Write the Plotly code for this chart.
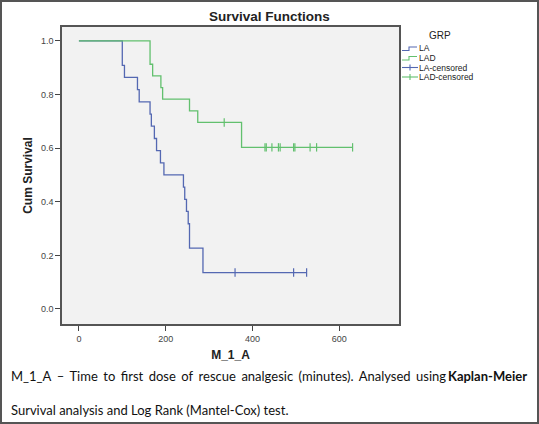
import plotly.graph_objects as go

# ---- data ----
la_times = [0, 100, 105, 135, 139, 164, 167, 174, 179, 188, 196, 241, 244, 248, 252, 255, 286, 525]
la_surv = [1.0, 0.909, 0.864, 0.818, 0.773, 0.727, 0.682, 0.636, 0.591, 0.545, 0.500,
           0.455, 0.409, 0.364, 0.318, 0.227, 0.136, 0.136]
lad_times = [0, 164, 170, 189, 193, 255, 274, 375, 631]
lad_surv = [1.0, 0.913, 0.870, 0.826, 0.783, 0.739, 0.696, 0.603, 0.603]
la_cens_times = [360, 495, 525]
la_cens_surv = [0.136, 0.136, 0.136]
lad_cens_times = [335, 429, 432, 445, 460, 464, 495, 498, 533, 548, 631]
lad_cens_surv = [0.696, 0.603, 0.603, 0.603, 0.603, 0.603, 0.603, 0.603, 0.603, 0.603, 0.603]
x_ticks = [0, 200, 400, 600]
y_ticks = [0.0, 0.2, 0.4, 0.6, 0.8, 1.0]
legend_labels = ["LA", "LAD", "LA-censored", "LAD-censored"]

BLUE = "#5468b2"
GREEN = "#62c06e"

W, H = 539, 424
L, R, T, B = 62, 140, 27, 100
PW, PH = W - L - R, H - T - B


def px(x):
    return (x - L) / PW


def py(y):
    return (H - B - y) / PH


fig = go.Figure()
fig.add_trace(go.Scatter(x=la_times, y=la_surv, mode="lines", line=dict(shape="hv", color=BLUE, width=1.3),
                         name="LA", showlegend=False))
fig.add_trace(go.Scatter(x=lad_times, y=lad_surv, mode="lines", line=dict(shape="hv", color=GREEN, width=1.3),
                         name="LAD", showlegend=False))
fig.add_trace(go.Scatter(x=la_cens_times, y=la_cens_surv, mode="markers",
                         marker=dict(symbol="line-ns", size=6, line=dict(color=BLUE, width=1.2)),
                         name="LA-censored", showlegend=False))
fig.add_trace(go.Scatter(x=lad_cens_times, y=lad_cens_surv, mode="markers",
                         marker=dict(symbol="line-ns", size=6, line=dict(color=GREEN, width=1.2)),
                         name="LAD-censored", showlegend=False))

axis_common = dict(showgrid=False, zeroline=False, showline=True, linecolor="#555", linewidth=1.5,
                   mirror=True, ticks="outside", ticklen=5, tickcolor="#444", tickwidth=1.3,
                   tickfont=dict(family="Liberation Sans, Arial, sans-serif", size=9, color="#444"))

fig.update_layout(
    width=W, height=H,
    margin=dict(l=L, r=R, t=T, b=B, pad=0),
    paper_bgcolor="white", plot_bgcolor="#f2f2f2",
    xaxis=dict(range=[-39, 738], tickvals=x_ticks, **axis_common,
               title=dict(text="<b>M_1_A</b>", standoff=8,
                          font=dict(family="Liberation Sans, Arial, sans-serif", size=12, color="#222"))),
    yaxis=dict(range=[-0.056, 1.052], tickvals=y_ticks, tickformat=".1f", **axis_common,
               title=dict(text="<b>Cum Survival</b>", standoff=6,
                          font=dict(family="Liberation Sans, Arial, sans-serif", size=12, color="#222"))),
    showlegend=False,
)

fig.add_annotation(text="<b>Survival Functions</b>", xref="paper", yref="paper", x=px(269.5), y=py(17),
                   showarrow=False, xanchor="center", yanchor="middle",
                   font=dict(family="Liberation Sans, Arial, sans-serif", size=13.5, color="#222"))

# custom legend
lf = dict(family="Liberation Sans, Arial, sans-serif", size=8.5, color="#222")
fig.add_annotation(text="GRP", xref="paper", yref="paper", x=px(440), y=py(35), showarrow=False,
                   xanchor="center", yanchor="middle", font=dict(lf, size=10))
leg_y = [48.5, 58, 67.5, 77]
leg_col = [BLUE, GREEN, BLUE, GREEN]
for i, (lab, yy, c) in enumerate(zip(legend_labels, leg_y, leg_col)):
    fig.add_annotation(text=lab, xref="paper", yref="paper", x=px(418), y=py(yy), showarrow=False,
                       xanchor="left", yanchor="middle", font=lf, borderpad=0)
    if i < 2:
        path = (f"M {px(402)},{py(yy + 2)} L {px(409)},{py(yy + 2)} L {px(409)},{py(yy - 1.5)} "
                f"L {px(417)},{py(yy - 1.5)}")
        fig.add_shape(type="path", path=path, xref="paper", yref="paper", line=dict(color=c, width=1.1))
    else:
        fig.add_shape(type="line", xref="paper", yref="paper", x0=px(402), x1=px(418), y0=py(yy), y1=py(yy),
                      line=dict(color=c, width=1.1))
        fig.add_shape(type="line", xref="paper", yref="paper", x0=px(410), x1=px(410), y0=py(yy - 3),
                      y1=py(yy + 3), line=dict(color=c, width=1.1))

cf = dict(family="Lato, sans-serif", size=13, color="#111")
line1 = "M_1_A – Time to first dose of rescue analgesic (minutes). Analysed using"
line1_justified = line1.replace(" ", "\u2006 ")
fig.add_annotation(text=line1_justified,
                   xref="paper", yref="paper", x=px(10), y=py(376), showarrow=False,
                   xanchor="left", yanchor="middle", font=cf, borderpad=0)
fig.add_annotation(text="<b>Kaplan-Meier</b>", xref="paper", yref="paper", x=px(528), y=py(376),
                   showarrow=False, xanchor="right", yanchor="middle", font=cf, borderpad=0)
fig.add_annotation(text="Survival analysis and Log Rank (Mantel-Cox) test.", xref="paper", yref="paper",
                   x=px(10), y=py(410), showarrow=False, xanchor="left", yanchor="middle", font=cf,
                   borderpad=0)

# outer frame of the picture
fig.add_shape(type="rect", xref="paper", yref="paper", x0=px(1), x1=px(538), y0=py(1), y1=py(423),
              line=dict(color="#555", width=2))

fig.write_html("out.html", config={"displayModeBar": False},
               post_script="document.body.style.margin='0';document.body.style.overflow='hidden';")
